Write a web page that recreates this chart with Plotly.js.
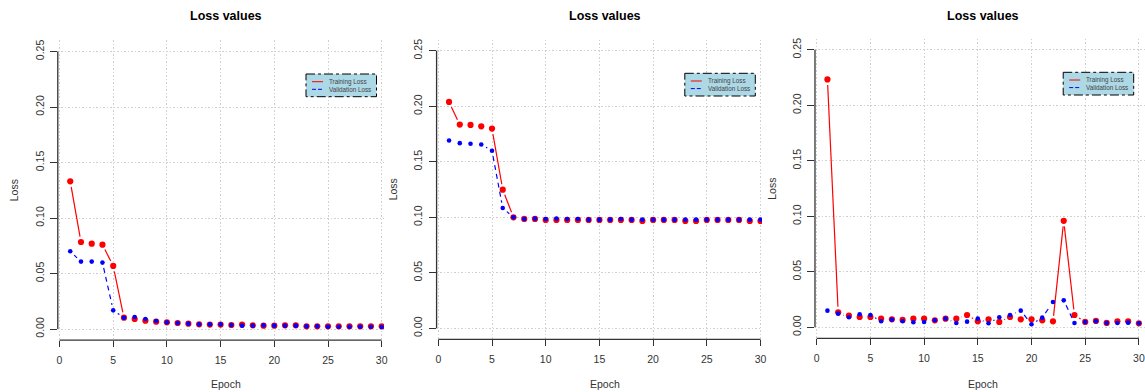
<!DOCTYPE html>
<html>
<head>
<meta charset="utf-8">
<script src="https://cdn.plot.ly/plotly-3.0.1.min.js"></script>
<style>
  html, body { margin: 0; padding: 0; background: #ffffff; }
  #chart { width: 1145px; height: 392px; }
</style>
</head>
<body>
<div id="chart"></div>
<script>
// Epochs shared by all three runs
const epochs = [1, 2, 3, 4, 5, 6, 7, 8, 9, 10, 11, 12, 13, 14, 15,
                16, 17, 18, 19, 20, 21, 22, 23, 24, 25, 26, 27, 28, 29, 30];

// Run 1
const trainLoss1 = [0.133, 0.0784, 0.0769, 0.0760, 0.0568, 0.0102, 0.0090, 0.0075, 0.0066, 0.0060,
                    0.0054, 0.0048, 0.0042, 0.0040, 0.0040, 0.0036, 0.0040, 0.0033, 0.0030, 0.0030,
                    0.0033, 0.0033, 0.0024, 0.0024, 0.0024, 0.0024, 0.0024, 0.0024, 0.0024, 0.0024];
const valLoss1   = [0.0700, 0.0607, 0.0607, 0.0598, 0.0168, 0.0102, 0.0108, 0.0090, 0.0072, 0.0060,
                    0.0054, 0.0048, 0.0042, 0.0042, 0.0042, 0.0036, 0.0030, 0.0030, 0.0033, 0.0030,
                    0.0030, 0.0030, 0.0024, 0.0024, 0.0020, 0.0020, 0.0020, 0.0020, 0.0020, 0.0018];

// Run 2
const trainLoss2 = [0.2039, 0.1835, 0.1832, 0.1820, 0.1799, 0.1249, 0.1000, 0.0985, 0.0985, 0.0976,
                    0.0976, 0.0976, 0.0976, 0.0976, 0.0976, 0.0976, 0.0976, 0.0976, 0.0967, 0.0976,
                    0.0976, 0.0976, 0.0967, 0.0967, 0.0976, 0.0976, 0.0976, 0.0976, 0.0967, 0.0967];
const valLoss2   = [0.1692, 0.1668, 0.1662, 0.1656, 0.1599, 0.1084, 0.1000, 0.0985, 0.0988, 0.0985,
                    0.0988, 0.0985, 0.0985, 0.0979, 0.0979, 0.0979, 0.0985, 0.0979, 0.0979, 0.0979,
                    0.0979, 0.0979, 0.0979, 0.0979, 0.0979, 0.0979, 0.0979, 0.0979, 0.0979, 0.0979];

// Run 3
const trainLoss3 = [0.2233, 0.0135, 0.0105, 0.0093, 0.0093, 0.0078, 0.0072, 0.0066, 0.0078, 0.0078,
                    0.0063, 0.0078, 0.0078, 0.0111, 0.0054, 0.0072, 0.0048, 0.0093, 0.0072, 0.0072,
                    0.0063, 0.0054, 0.0959, 0.0111, 0.0048, 0.0057, 0.0039, 0.0054, 0.0054, 0.0036];
const valLoss3   = [0.0150, 0.0123, 0.0090, 0.0117, 0.0111, 0.0054, 0.0069, 0.0054, 0.0045, 0.0048,
                    0.0063, 0.0078, 0.0039, 0.0051, 0.0078, 0.0036, 0.0090, 0.0111, 0.0150, 0.0027,
                    0.0087, 0.0228, 0.0243, 0.0039, 0.0048, 0.0054, 0.0039, 0.0039, 0.0042, 0.0036];

// Axis ticks and texts
const xTicks = [0, 5, 10, 15, 20, 25, 30];
const yTicks = [0, 0.05, 0.10, 0.15, 0.20, 0.25];
const yTickText = ['0.00', '0.05', '0.10', '0.15', '0.20', '0.25'];
const plotTitle = 'Loss values';
const xLabel = 'Epoch';
const yLabel = 'Loss';
const legendLabels = ['Training Loss', 'Validation Loss'];

const runs = [
  { train: trainLoss1, val: valLoss1 },
  { train: trainLoss2, val: valLoss2 },
  { train: trainLoss3, val: valLoss3 }
];

// Page geometry (pixels)
const W = 1145, H = 392;
const KX = 10.74;   // px per epoch
const KY = 1110;    // px per unit of loss
const panels = [
  { x0: 59.5,  y0: 329.0, right: 384 },
  { x0: 438.3, y0: 328.3, right: 762 },
  { x0: 816.7, y0: 327.3, right: 1145 }
];
const XMIN = -0.16, YMIN = -0.01, YMAX = 0.26;
const GAP = 5.5; // px left open around each point on the connecting lines

const FONT = 'Liberation Sans, Arial, Helvetica, sans-serif';
const AXIS_COL = '#333333';
const GRID_COL = '#d0d0d0';

// Connecting segments, trimmed near the points (lines-and-points style)
function gappedLine(xs, ys) {
  const gx = [], gy = [];
  for (let i = 0; i < xs.length - 1; i++) {
    const dx = xs[i + 1] - xs[i], dy = ys[i + 1] - ys[i];
    const L = Math.hypot(dx * KX, dy * KY);
    if (L <= 2 * GAP) continue;
    const t = GAP / L;
    gx.push(xs[i] + t * dx, xs[i + 1] - t * dx, null);
    gy.push(ys[i] + t * dy, ys[i + 1] - t * dy, null);
  }
  return { x: gx, y: gy };
}

const px2fx = p => p / W;
const px2fy = p => (H - p) / H;

const data = [];
const layout = {
  width: W, height: H,
  margin: { l: 0, r: 0, t: 0, b: 0 },
  paper_bgcolor: '#ffffff',
  plot_bgcolor: '#ffffff',
  showlegend: false,
  font: { family: FONT, size: 10.5, color: AXIS_COL },
  shapes: [],
  annotations: []
};

panels.forEach((p, i) => {
  const n = i === 0 ? '' : String(i + 1);
  const xa = 'x' + n, ya = 'y' + n;
  const xmax = (p.right - p.x0) / KX;
  const leftPx = p.x0 + XMIN * KX;
  const topPx = p.y0 - YMAX * KY;
  const botPx = p.y0 - YMIN * KY;

  layout['xaxis' + n] = {
    domain: [px2fx(leftPx), px2fx(p.right)],
    range: [XMIN, xmax],
    anchor: ya,
    tickvals: xTicks,
    ticktext: xTicks.map(String),
    ticks: 'outside', ticklen: 6, tickwidth: 1, tickcolor: AXIS_COL,
    ticklabelstandoff: 4,
    showline: false, zeroline: false,
    showgrid: true, gridcolor: GRID_COL, griddash: '1.5px,2px', gridwidth: 1,
    tickfont: { family: FONT, size: 10.5, color: AXIS_COL },
    fixedrange: true
  };
  layout['yaxis' + n] = {
    domain: [px2fy(botPx), px2fy(topPx)],
    range: [YMIN, YMAX],
    anchor: xa,
    tickvals: yTicks,
    ticktext: yTickText,
    tickangle: -90,
    ticks: 'outside', ticklen: 7, tickwidth: 1, tickcolor: AXIS_COL,
    ticklabelstandoff: 2,
    showline: false, zeroline: false,
    showgrid: true, gridcolor: GRID_COL, griddash: '1.5px,2px', gridwidth: 1,
    tickfont: { family: FONT, size: 10.5, color: AXIS_COL },
    fixedrange: true
  };

  // Axis lines spanning only the tick range
  layout.shapes.push({
    type: 'line', xref: xa + ' domain', yref: ya,
    x0: 0, x1: 0, y0: yTicks[0], y1: yTicks[yTicks.length - 1],
    line: { color: AXIS_COL, width: 1.3 }
  });
  layout.shapes.push({
    type: 'line', xref: xa, yref: ya + ' domain',
    x0: xTicks[0], x1: xTicks[xTicks.length - 1], y0: 0, y1: 0,
    line: { color: AXIS_COL, width: 1.3 }
  });

  const run = runs[i];
  const tl = gappedLine(epochs, run.train);
  const vl = gappedLine(epochs, run.val);
  data.push({
    x: tl.x, y: tl.y, xaxis: xa, yaxis: ya, type: 'scatter', mode: 'lines',
    connectgaps: false, line: { color: '#ff0000', width: 1.2 }, hoverinfo: 'skip',
    name: legendLabels[0]
  });
  data.push({
    x: epochs, y: run.train, xaxis: xa, yaxis: ya, type: 'scatter', mode: 'markers',
    marker: { color: '#ff0000', size: 6.2 }, name: legendLabels[0]
  });
  data.push({
    x: vl.x, y: vl.y, xaxis: xa, yaxis: ya, type: 'scatter', mode: 'lines',
    connectgaps: false, line: { color: '#0000ff', width: 1.2, dash: '5px,4px' }, hoverinfo: 'skip',
    name: legendLabels[1]
  });
  data.push({
    x: epochs, y: run.val, xaxis: xa, yaxis: ya, type: 'scatter', mode: 'markers',
    marker: { color: '#0000ff', size: 4.6 }, name: legendLabels[1]
  });

  // Titles
  const cx = p.x0 + 15.5 * KX;
  layout.annotations.push({
    xref: 'paper', yref: 'paper', x: px2fx(cx), y: px2fy(16.5),
    xanchor: 'center', yanchor: 'middle', showarrow: false,
    text: '<b>' + plotTitle + '</b>',
    font: { family: FONT, size: 12.5, color: '#000000' }
  });
  layout.annotations.push({
    xref: 'paper', yref: 'paper', x: px2fx(cx), y: px2fy(384),
    xanchor: 'center', yanchor: 'middle', showarrow: false,
    text: xLabel, font: { family: FONT, size: 10.5, color: AXIS_COL }
  });
  layout.annotations.push({
    xref: 'paper', yref: 'paper', x: px2fx(p.x0 - 45.5), y: px2fy(p.y0 - 0.125 * KY),
    xanchor: 'center', yanchor: 'middle', showarrow: false, textangle: -90,
    text: yLabel, font: { family: FONT, size: 10.5, color: AXIS_COL }
  });

  // Legend box
  const lx = p.x0 + 246.5, ly = p.y0 - 255;
  layout.shapes.push({
    type: 'rect', xref: 'paper', yref: 'paper',
    x0: px2fx(lx), x1: px2fx(lx + 70.5), y0: px2fy(ly), y1: px2fy(ly + 22.7),
    fillcolor: '#add8e6', line: { color: '#000000', width: 1, dash: 'dashdot' }
  });
  layout.shapes.push({
    type: 'line', xref: 'paper', yref: 'paper',
    x0: px2fx(lx + 6), x1: px2fx(lx + 17), y0: px2fy(ly + 7.7), y1: px2fy(ly + 7.7),
    line: { color: '#ff0000', width: 1 }
  });
  layout.shapes.push({
    type: 'line', xref: 'paper', yref: 'paper',
    x0: px2fx(lx + 6), x1: px2fx(lx + 17), y0: px2fy(ly + 15.3), y1: px2fy(ly + 15.3),
    line: { color: '#0000ff', width: 1, dash: '4px,2px' }
  });
  legendLabels.forEach((lab, j) => {
    layout.annotations.push({
      xref: 'paper', yref: 'paper', x: px2fx(lx + 21), y: px2fy(ly + (j === 0 ? 7.7 : 15.3)),
      xanchor: 'left', yanchor: 'middle', showarrow: false,
      text: lab, font: { family: FONT, size: 6.3, color: '#444444' }
    });
  });
});

Plotly.newPlot('chart', data, layout, { displayModeBar: false, staticPlot: true });
</script>
</body>
</html>
